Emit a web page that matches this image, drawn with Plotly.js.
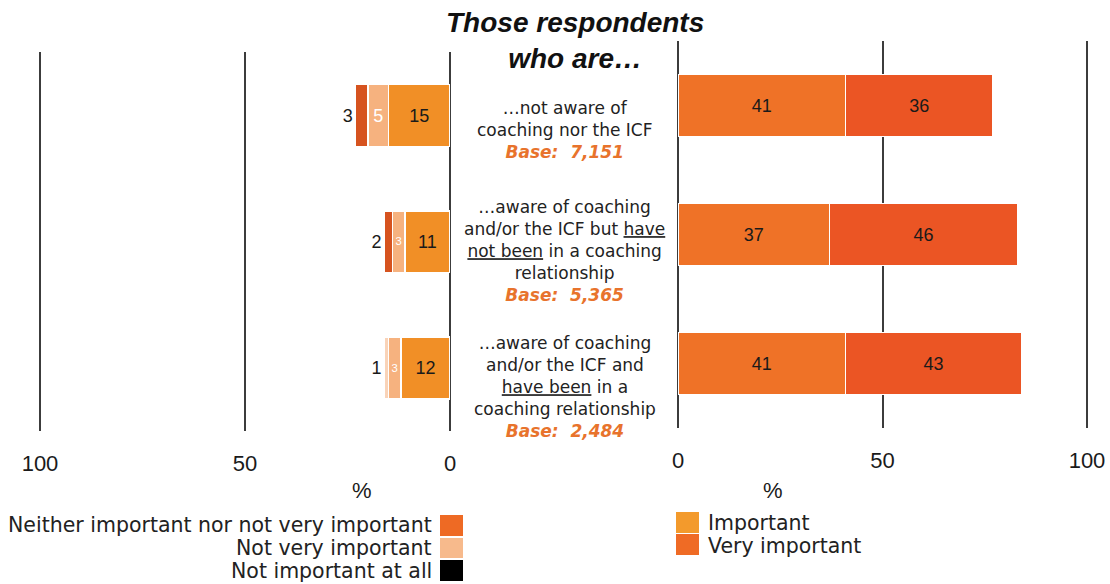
<!DOCTYPE html>
<html>
<head>
<meta charset="utf-8">
<script src="https://cdn.plot.ly/plotly-3.0.1.min.js"></script>
<style>html,body{margin:0;padding:0;background:#fff;}#chart{width:1110px;height:584px;}</style>
</head>
<body>
<div id="chart"></div>
<script>
// ---- data ----
const groups = ['Not aware', 'Aware, not coached', 'Aware, coached'];
const neitherVals = [15, 11, 12];
const notVeryVals = [5, 3, 3];
const notAtAllVals = [3, 2, 1];
const importantVals = [41, 37, 41];
const veryImportantVals = [36, 46, 43];
const groupDescriptions = [
  '…not aware of<br>coaching nor the ICF',
  '…aware of coaching<br>and/or the ICF but <u>have</u><br><u>not been</u> in a coaching<br>relationship',
  '…aware of coaching<br>and/or the ICF and<br><u>have been</u> in a<br>coaching relationship'
];
const baseCounts = ['7,151', '5,365', '2,484'];
const titleText = 'Those respondents<br>who are…';
const leftLegendLabels = ['Neither important nor not very important', 'Not very important', 'Not important at all'];
const rightLegendLabels = ['Important', 'Very important'];
const xTickVals = [0, 50, 100];
const xTickText = ['0', '50', '100'];
const axisUnit = '%';

// ---- styles ----
const C = {
  neither: '#F18F26', notVery: '#F6B27F', notAtAll: '#D6531F', notAtAllPale: '#F9D3B8',
  important: '#EF7227', veryImportant: '#EB5524',
  legNeither: '#EE6A24', legNotVery: '#F7BA8C', legNotAtAll: '#000000',
  legImportant: '#F39A2C', legVery: '#EF6B25',
  grid: '#3c3c3c', text: '#1a1a1a', base: '#E8732C'
};
const arial = 'Liberation Sans, Arial, sans-serif';
const body = 'DejaVu Sans, sans-serif';
const line = {color: '#ffffff', width: 1.5};

const traces = [
  {type: 'bar', orientation: 'h', name: leftLegendLabels[0], y: groups, x: neitherVals,
   xaxis: 'x', yaxis: 'y', marker: {color: C.neither, line: line}, width: 0.49,
   text: neitherVals.map(String), textposition: 'inside', insidetextanchor: 'middle',
   textfont: {family: arial, size: 18, color: C.text}, hoverinfo: 'x+name'},
  {type: 'bar', orientation: 'h', name: leftLegendLabels[1], y: groups, x: notVeryVals,
   xaxis: 'x', yaxis: 'y', marker: {color: C.notVery, line: line}, width: 0.49,
   text: notVeryVals.map(String), textposition: 'inside', insidetextanchor: 'middle',
   textfont: {family: arial, size: 18, color: '#ffffff'}, hoverinfo: 'x+name'},
  {type: 'bar', orientation: 'h', name: leftLegendLabels[2], y: groups, x: notAtAllVals,
   xaxis: 'x', yaxis: 'y',
   marker: {color: notAtAllVals.map((v, i) => i === 2 ? C.notAtAllPale : C.notAtAll), line: line}, width: 0.49,
   text: notAtAllVals.map(String), textposition: 'outside', cliponaxis: false,
   textfont: {family: arial, size: 18, color: C.text}, hoverinfo: 'x+name'},
  {type: 'bar', orientation: 'h', name: rightLegendLabels[0], y: groups, x: importantVals,
   xaxis: 'x2', yaxis: 'y2', marker: {color: C.important, line: line}, width: 0.48,
   text: importantVals.map(String), textposition: 'inside', insidetextanchor: 'middle',
   textfont: {family: arial, size: 18, color: C.text}, hoverinfo: 'x+name'},
  {type: 'bar', orientation: 'h', name: rightLegendLabels[1], y: groups, x: veryImportantVals,
   xaxis: 'x2', yaxis: 'y2', marker: {color: C.veryImportant, line: line}, width: 0.48,
   text: veryImportantVals.map(String), textposition: 'inside', insidetextanchor: 'middle',
   textfont: {family: arial, size: 18, color: C.text}, hoverinfo: 'x+name'}
];

const xCommon = {
  tickvals: xTickVals, ticktext: xTickText, ticks: '', showline: false,
  showgrid: true, gridcolor: C.grid, gridwidth: 2,
  zeroline: true, zerolinecolor: C.grid, zerolinewidth: 2,
  tickfont: {family: arial, size: 22, color: C.text}, ticklabelstandoff: 17, fixedrange: true
};
const yCommon = {type: 'category', showgrid: false, zeroline: false, showticklabels: false,
  showline: false, ticks: '', range: [2.5, -0.5], fixedrange: true};

const annotations = [];
annotations.push({xref: 'paper', yref: 'paper', x: 0.518, y: 0.930, xanchor: 'center', yanchor: 'middle',
  text: '<b><i>' + titleText + '</i></b>', showarrow: false, align: 'center',
  font: {family: arial, size: 28, color: '#111'}});
const rowCenters = [0.777, 0.570, 0.337];
groupDescriptions.forEach((d, i) => {
  annotations.push({xref: 'paper', yref: 'paper', x: 0.509, y: rowCenters[i], xanchor: 'center', yanchor: 'middle',
    showarrow: false, align: 'center',
    text: d + '<br><b><i><span style="color:' + C.base + '">Base:\u00a0 ' + baseCounts[i] + '</span></i></b>',
    font: {family: body, size: 17, color: '#222'}});
});
annotations.push({xref: 'paper', yref: 'paper', x: 362 / 1110, y: 1 - 490 / 584, xanchor: 'center', yanchor: 'middle',
  text: axisUnit, showarrow: false, font: {family: arial, size: 22, color: C.text}});
annotations.push({xref: 'paper', yref: 'paper', x: 773 / 1110, y: 1 - 490 / 584, xanchor: 'center', yanchor: 'middle',
  text: axisUnit, showarrow: false, font: {family: arial, size: 22, color: C.text}});

// manual legends
const leftLegColors = [C.legNeither, C.legNotVery, C.legNotAtAll];
const leftLegY = [[515, 536], [538, 558], [560, 581]];
const leftTextY = [525, 548, 571];
const shapes = [];
leftLegendLabels.forEach((lab, i) => {
  shapes.push({type: 'rect', xref: 'paper', yref: 'paper', x0: 440 / 1110, x1: 463 / 1110,
    y0: 1 - leftLegY[i][1] / 584, y1: 1 - leftLegY[i][0] / 584, fillcolor: leftLegColors[i], line: {width: 0}});
  annotations.push({xref: 'paper', yref: 'paper', x: 434 / 1110, y: 1 - leftTextY[i] / 584, xanchor: 'right', yanchor: 'middle',
    text: lab, showarrow: false, font: {family: body, size: 20.5, color: '#222'}});
});
const rightLegColors = [C.legImportant, C.legVery];
const rightLegY = [[512, 533], [534, 555]];
const rightTextY = [523, 546];
rightLegendLabels.forEach((lab, i) => {
  shapes.push({type: 'rect', xref: 'paper', yref: 'paper', x0: 676 / 1110, x1: 699 / 1110,
    y0: 1 - rightLegY[i][1] / 584, y1: 1 - rightLegY[i][0] / 584, fillcolor: rightLegColors[i], line: {width: 0}});
  annotations.push({xref: 'paper', yref: 'paper', x: 706 / 1110, y: 1 - rightTextY[i] / 584, xanchor: 'left', yanchor: 'middle',
    text: lab, showarrow: false, font: {family: body, size: 20.5, color: '#222'}});
});

const layout = {
  width: 1110, height: 584, margin: {l: 0, r: 0, t: 0, b: 0},
  paper_bgcolor: '#ffffff', plot_bgcolor: 'rgba(0,0,0,0)',
  barmode: 'stack', showlegend: false,
  font: {family: arial, color: C.text},
  xaxis: Object.assign({}, xCommon, {domain: [37.95 / 1110, 450 / 1110], range: [100.5, 0], anchor: 'y'}),
  xaxis2: Object.assign({}, xCommon, {domain: [678 / 1110, 1089.05 / 1110], range: [0, 100.5], anchor: 'y2'}),
  yaxis: Object.assign({}, yCommon, {domain: [1 - 431 / 584, 1 - 52.4 / 584], anchor: 'x'}),
  yaxis2: Object.assign({}, yCommon, {domain: [1 - 428 / 584, 1 - 41 / 584], anchor: 'x2'}),
  annotations: annotations, shapes: shapes
};

Plotly.newPlot('chart', traces, layout, {displayModeBar: false, staticPlot: true});
</script>
</body>
</html>
